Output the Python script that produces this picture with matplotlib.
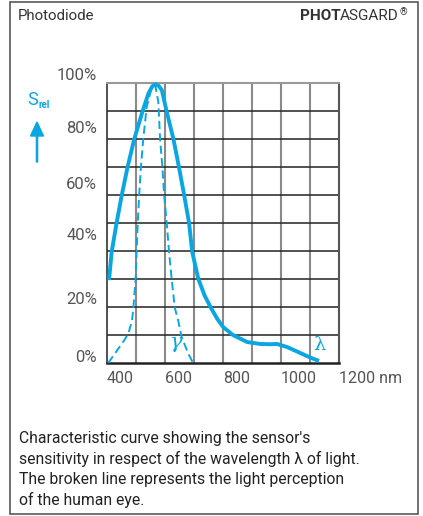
import numpy as np
import matplotlib
matplotlib.use('Agg')
from matplotlib import pyplot as plt
from matplotlib.patches import Rectangle, FancyArrow

# sensor curve (solid): wavelength nm -> relative %
sensor_nm = [407, 416, 433, 451, 471, 494, 522, 543, 556, 566, 578, 589, 606, 629, 648,
             666, 683, 694, 715, 737, 759, 780, 800, 834, 883, 928, 960, 986, 1021,
             1066, 1100, 1131]
sensor_pct = [29.6, 39.6, 50, 60, 70, 80, 89.7, 96.3, 98.8, 99.5, 99.0, 97.5, 89.7, 80, 70,
              60, 50, 39.6, 30, 24, 19.6, 15.8, 12.9, 10, 7.5, 6.8, 6.7, 6.8, 5.7,
              3.6, 2.0, 0.7]

# human eye curve (broken line)
eye_nm = [404, 425, 445, 462, 475, 486, 491, 494, 499, 502, 506, 511, 517, 525, 537, 552,
          566, 577, 583, 591, 597, 606, 614, 623, 634, 645, 657, 680, 697]
eye_pct = [0, 3, 6, 8.5, 11, 15, 19.6, 24, 30, 39.6, 50, 60, 70, 80, 91.5, 97.5,
           99.3, 93.3, 80, 70, 60, 50, 39.6, 30, 19.6, 15.4, 9.4, 3.4, 0]

x_ticks = [400, 600, 800, 1000, 1200]
x_labels = ['400', '600', '800', '1000', '1200 nm']
y_labels = ['0%', '20%', '40%', '60%', '80%', '100%']
y_label_pos = [2.1, 22.5, 45.4, 63.9, 83.6, 102.5]

caption = ["Characteristic curve showing the sensor's",
           "sensitivity in respect of the wavelength \u03bb of light.",
           "The broken line represents the light perception",
           "of the human eye."]

BLUE = '#0aa6e1'
W, H = 423, 516


def fx(px):
    return px / W


def fy(py):
    return 1 - py / H


def main():
    plt.rcParams['font.family'] = ['Roboto', 'DejaVu Sans']
    fig = plt.figure(figsize=(W / 100, H / 100), dpi=100)

    # outer frame
    fig.add_artist(Rectangle((fx(10), fy(514)), fx(418) - fx(10), fy(2) - fy(514),
                             transform=fig.transFigure, fill=False,
                             edgecolor='#4a4a4a', lw=1.1))

    ax = fig.add_axes([fx(107), fy(363), fx(339) - fx(107), fy(83) - fy(363)])
    ax.set_xlim(400, 1200)
    ax.set_ylim(0, 100)

    # grid
    ax.vlines(np.arange(500, 1200, 100), 0, 100, color='#8a8a8a', lw=1.5, zorder=1)
    ax.hlines(np.arange(10, 100, 10), 400, 1200, color='#222222', lw=1.1, zorder=1)
    ax.spines['left'].set_color('#333333')
    ax.spines['left'].set_linewidth(1.2)
    ax.spines['bottom'].set_color('#222222')
    ax.spines['bottom'].set_linewidth(1.8)
    ax.spines['top'].set_color('#999999')
    ax.spines['top'].set_linewidth(1.5)
    ax.spines['right'].set_color('#555555')
    ax.spines['right'].set_linewidth(1.5)

    ax.plot(sensor_nm, sensor_pct, color=BLUE, lw=2.8, solid_capstyle='butt',
            solid_joinstyle='round', zorder=3, clip_on=False)
    ax.plot(eye_nm, eye_pct, color=BLUE, lw=1.4, linestyle=(0, (4.2, 2.2)),
            zorder=3, clip_on=False)

    ax.text(638, 7.5, '\u03b3', color=BLUE, fontsize=15, family='DejaVu Serif',
            style='italic', ha='center', va='center')
    ax.text(1134, 6.4, '\u03bb', color=BLUE, fontsize=14, family='DejaVu Serif',
            ha='center', va='center')

    ax.set_xticks(x_ticks)
    ax.set_xticklabels(x_labels, ha='left', fontsize=11.5, color='#555555')
    ax.tick_params(axis='x', length=0, pad=6)
    ax.set_yticks([])

    for pos, lab in zip(y_label_pos, y_labels):
        ax.text(-0.043, pos, lab, transform=ax.get_yaxis_transform(), ha='right',
                va='center', fontsize=12, color='#555555', clip_on=False)

    # S_rel label and arrow
    fig.text(fx(27), fy(105), 'S', color=BLUE, fontsize=13, va='baseline')
    fig.text(fx(38), fy(108), 'rel', color=BLUE, fontsize=7, fontweight='bold',
             va='baseline')
    fig.add_artist(FancyArrow(37 / 100, (H - 162) / 100, 0, 0.40, width=0.012,
                              head_width=0.13, head_length=0.14,
                              length_includes_head=True, color=BLUE,
                              transform=fig.dpi_scale_trans))

    # header
    fig.text(fx(18), fy(16), 'Photodiode', fontsize=10.8, color='#333333', va='center')
    reg = fig.text(fx(399), fy(16), 'ASGARD', fontsize=11, color='#333333',
                   ha='right', va='center')
    fig.text(fx(400), fy(12), '\u00ae', fontsize=7, color='#333333', ha='left',
             va='center')
    ax.annotate('PHOT', xy=(0, 0), xycoords=reg, ha='right', va='bottom',
                fontsize=11, fontweight='bold', color='#333333')

    for i, line in enumerate(caption):
        fig.text(fx(19), fy(438 + i * 20.8), line, fontsize=11.3, color='#222222',
                 va='center')

    fig.savefig('out.png', dpi=100)
    plt.close(fig)


if __name__ == '__main__':
    main()
